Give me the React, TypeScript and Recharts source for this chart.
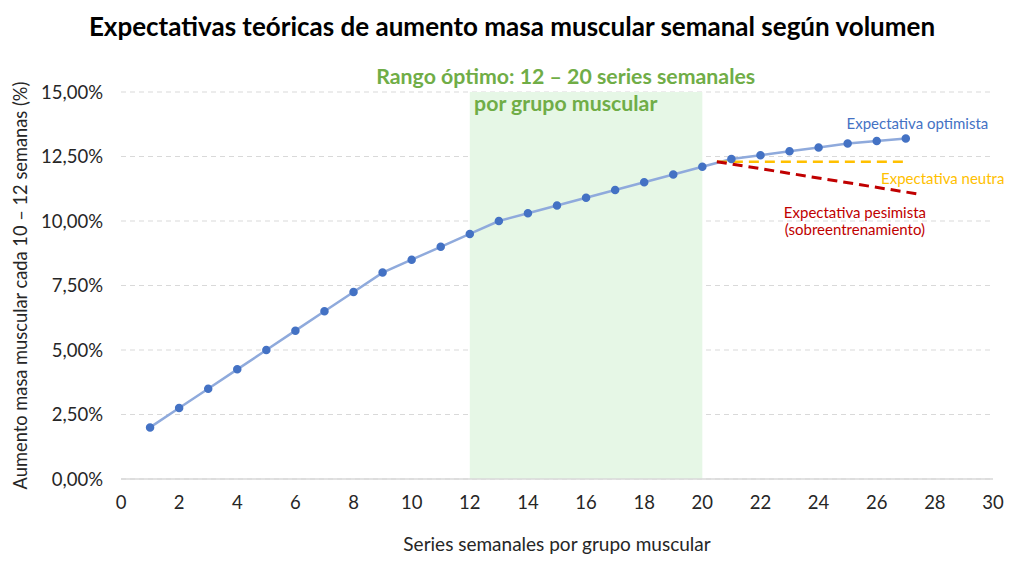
import { ComposedChart, Line, XAxis, YAxis, CartesianGrid, ReferenceArea, ReferenceDot } from 'recharts'

// series semanales (1..27) y aumento esperado (%)
const seriesSemanales = [1, 2, 3, 4, 5, 6, 7, 8, 9, 10, 11, 12, 13, 14, 15, 16, 17, 18, 19, 20, 21, 22, 23, 24, 25, 26, 27]
const optimista = [2.0, 2.75, 3.5, 4.25, 5.0, 5.75, 6.5, 7.25, 8.0, 8.5, 9.0, 9.5, 10.0, 10.3, 10.6, 10.9, 11.2, 11.5, 11.8, 12.1, 12.4, 12.55, 12.7, 12.85, 13.0, 13.1, 13.2]

const neutraX = [20.5, 27.1]
const neutraY = [12.3, 12.3]
const pesimistaX = [20.5, 27.4]
const pesimistaY = [12.3, 11.05]

const xTicks = [0, 2, 4, 6, 8, 10, 12, 14, 16, 18, 20, 22, 24, 26, 28, 30]
const yTicks = [0, 2.5, 5, 7.5, 10, 12.5, 15]

const FONT = 'Lato, "Noto Sans", sans-serif'

const optData = seriesSemanales.map((x, i) => ({ x, y: optimista[i] }))
const neuData = neutraX.map((x, i) => ({ x, y: neutraY[i] }))
const pesData = pesimistaX.map((x, i) => ({ x, y: pesimistaY[i] }))

const fmt = (v: number) => v.toFixed(2).replace('.', ',') + '%'

function TextLines({ viewBox, lines, color, size, weight, dy, lh }: any) {
  const cx = viewBox ? viewBox.x + (viewBox.width || 0) / 2 : 0
  const cy = viewBox ? viewBox.y + (viewBox.height || 0) / 2 : 0
  return (
    <text x={cx} y={cy + dy} textAnchor="middle" fill={color} fontSize={size} fontWeight={weight} fontFamily={FONT}>
      {lines.map((l: string, i: number) => (
        <tspan key={i} x={cx} dy={i === 0 ? 0 : lh}>{l}</tspan>
      ))}
    </text>
  )
}

export default function App() {
  return (
    <div style={{ position: 'relative', width: 1008, height: 557, fontFamily: FONT }}>
      <div style={{ position: 'absolute', left: 0, width: 1008, top: 2, textAlign: 'center', fontSize: 26, fontWeight: 700, color: '#000' }}>
        Expectativas teóricas de aumento masa muscular semanal según volumen
      </div>
      <ComposedChart width={1008} height={557} margin={{ top: 84, right: 23, bottom: 10, left: 0 }}>
        <CartesianGrid vertical={false} stroke="#d9d9d9" strokeDasharray="5 4" />
        <ReferenceArea x1={12} x2={20} y1={0} y2={15} fill="#e6f7e6" fillOpacity={1} stroke="none" />
        <XAxis
          type="number"
          dataKey="x"
          domain={[0, 30]}
          ticks={xTicks}
          height={76}
          axisLine={{ stroke: '#d9d9d9', strokeWidth: 1.5 }}
          tickLine={false}
          tickMargin={11}
          tick={{ fill: '#262626', fontSize: 18.5, fontFamily: FONT }}
          label={{ value: 'Series semanales por grupo muscular', position: 'insideBottom', offset: 4, fill: '#262626', fontSize: 19, fontFamily: FONT }}
        />
        <YAxis
          type="number"
          domain={[0, 15]}
          ticks={yTicks}
          width={113}
          axisLine={false}
          tickLine={false}
          tickMargin={12}
          tickFormatter={fmt}
          tick={{ fill: '#262626', fontSize: 18.5, fontFamily: FONT }}
          label={{ value: 'Aumento masa muscular cada 10 – 12 semanas (%)', angle: -90, position: 'insideLeft', offset: 13, style: { textAnchor: 'middle' }, fill: '#262626', fontSize: 18.3, fontFamily: FONT }}
        />
        <Line data={optData} dataKey="y" type="linear" stroke="#8faadc" strokeWidth={2.5} dot={{ r: 3, fill: '#4472c4', stroke: '#4472c4' }} isAnimationActive={false} />
        <Line data={neuData} dataKey="y" type="linear" stroke="#ffc000" strokeWidth={2.5} strokeDasharray="10 6" dot={false} isAnimationActive={false} />
        <Line data={pesData} dataKey="y" type="linear" stroke="#c00000" strokeWidth={3} strokeDasharray="10 6" dot={false} isAnimationActive={false} />
        <ReferenceDot x={15.3} y={15} r={0} stroke="none" label={<TextLines lines={['Rango óptimo: 12 – 20 series semanales', 'por grupo muscular']} color="#70ad47" size={21.3} weight={700} dy={-8} lh={27} />} />
        <ReferenceDot x={27.4} y={13.9} r={0} stroke="none" label={<TextLines lines={['Expectativa optimista']} color="#4472c4" size={15} weight={400} dy={9} lh={17} />} />
        <ReferenceDot x={28.27} y={11.78} r={0} stroke="none" label={<TextLines lines={['Expectativa neutra']} color="#ffc000" size={15} weight={400} dy={9} lh={17} />} />
        <ReferenceDot x={25.25} y={10.48} r={0} stroke="none" label={<TextLines lines={['Expectativa pesimista', '(sobreentrenamiento)']} color="#c00000" size={15} weight={400} dy={9} lh={17} />} />
      </ComposedChart>
    </div>
  )
}
